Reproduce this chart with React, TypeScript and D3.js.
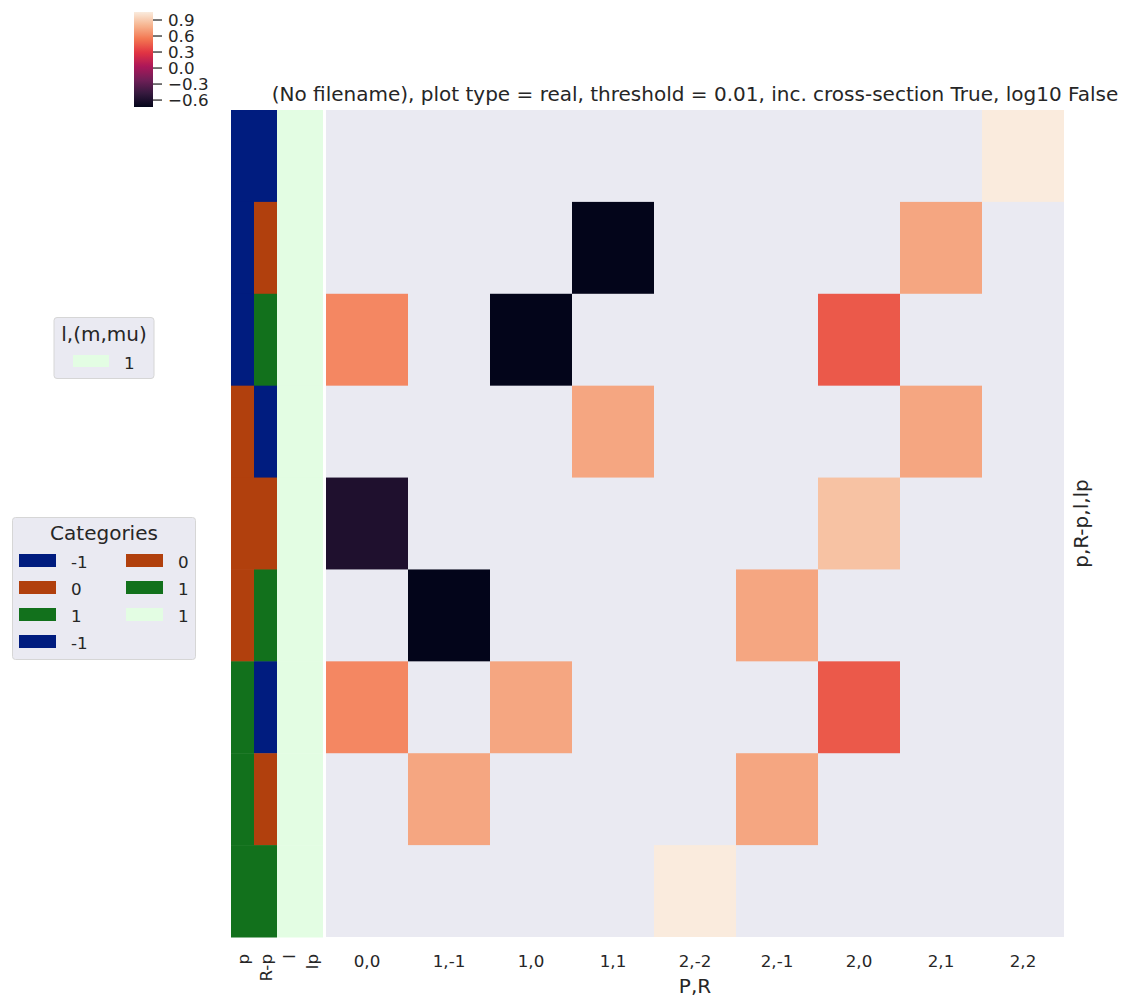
import React from 'react';
import * as d3 from 'd3';

// row index categories (p, R-p, l, lp)
const pVals = [-1, -1, -1, 0, 0, 0, 1, 1, 1];
const rpVals = [-1, 0, 1, -1, 0, 1, -1, 0, 1];
const lVals = [1, 1, 1, 1, 1, 1, 1, 1, 1];
const lpVals = [1, 1, 1, 1, 1, 1, 1, 1, 1];

// column labels (P,R)
const colLabels = ['0,0', '1,-1', '1,0', '1,1', '2,-2', '2,-1', '2,0', '2,1', '2,2'];

// heatmap values, null = below threshold
const row0 = [null, null, null, null, null, null, null, null, 1.05];
const row1 = [null, null, null, -0.73, null, null, null, 0.74, null];
const row2 = [0.61, null, -0.73, null, null, null, 0.43, null, null];
const row3 = [null, null, null, 0.74, null, null, null, 0.74, null];
const row4 = [-0.59, null, null, null, null, null, 0.86, null, null];
const row5 = [null, -0.73, null, null, null, 0.74, null, null, null];
const row6 = [0.61, null, 0.74, null, null, null, 0.43, null, null];
const row7 = [null, 0.74, null, null, null, 0.74, null, null, null];
const row8 = [null, null, null, null, 1.05, null, null, null, null];
const rows = [row0, row1, row2, row3, row4, row5, row6, row7, row8];

const cbTicks = [0.9, 0.6, 0.3, 0.0, -0.3, -0.6];

const TITLE = '(No filename), plot type = real, threshold = 0.01, inc. cross-section True, log10 False';

// seaborn "rocket" approximation
const rocketStops = ['#03051a', '#35193e', '#701f57', '#ad1759', '#e13342', '#f37651', '#f6b48f', '#faebdd'];
const rocket = d3.scaleLinear<string>()
  .domain(rocketStops.map((_, i) => i / (rocketStops.length - 1)))
  .range(rocketStops)
  .interpolate(d3.interpolateRgb);

const catColor = (v: number) => (v === -1 ? '#001c7f' : v === 0 ? '#b1400d' : '#12711c');
const lColor = '#e3fde3';
const txt = '#262626';
const font = 'DejaVu Sans, sans-serif';
const fsTick = 16.7;
const fsBig = 20;

const App = () => {
  const W = 1134, H = 1008;
  const hm = { left: 326, right: 1064, top: 110, bottom: 937 };
  const stripX = [231, 254, 277, 300];
  const stripW = 23;

  const allVals = rows.flat().filter((v) => v !== null) as number[];
  const vmin = d3.min(allVals)!;
  const vmax = d3.max(allVals)!;
  const color = (v: number) => rocket((v - vmin) / (vmax - vmin));

  const x = d3.scaleBand<number>().domain(d3.range(colLabels.length)).range([hm.left, hm.right]);
  const y = d3.scaleBand<number>().domain(d3.range(rows.length)).range([hm.top, hm.bottom]);

  const cb = { x: 134, w: 19, top: 12, bottom: 107 };
  const cbY = d3.scaleLinear().domain([vmin, vmax]).range([cb.bottom, cb.top]);
  const gradStops = d3.range(0, 1.0001, 0.02);

  const strips = [pVals, rpVals, lVals, lpVals];
  const stripColors = [catColor, catColor, () => lColor, () => lColor];
  const stripLabels = ['p', 'R-p', 'l', 'lp'];

  const catItems = [
    { c: '#001c7f', t: '-1', col: 0, row: 0 },
    { c: '#b1400d', t: '0', col: 0, row: 1 },
    { c: '#12711c', t: '1', col: 0, row: 2 },
    { c: '#001c7f', t: '-1', col: 0, row: 3 },
    { c: '#b1400d', t: '0', col: 1, row: 0 },
    { c: '#12711c', t: '1', col: 1, row: 1 },
    { c: lColor, t: '1', col: 1, row: 2 },
  ];

  return (
    <svg width={W} height={H} style={{ position: 'absolute', left: 0, top: 0, background: '#fff' }} fontFamily={font}>
      <defs>
        <linearGradient id="cbgrad" x1="0" y1="1" x2="0" y2="0">
          {gradStops.map((t) => (
            <stop key={t} offset={t} stopColor={rocket(t)} />
          ))}
        </linearGradient>
      </defs>

      {/* colorbar */}
      <rect x={cb.x} y={cb.top} width={cb.w} height={cb.bottom - cb.top} fill="url(#cbgrad)" />
      {cbTicks.map((t) => (
        <g key={t} transform={`translate(${cb.x + cb.w},${cbY(t)})`}>
          <line x1={0} x2={9} stroke={txt} strokeWidth={1.25} />
          <text x={15} dy="0.36em" fontSize={fsTick} fill={txt}>
            {d3.format('.1f')(t).replace('-', '\u2212')}
          </text>
        </g>
      ))}

      {/* title */}
      <text x={(hm.left + hm.right) / 2} y={101} textAnchor="middle" fontSize={fsBig} fill={txt}>{TITLE}</text>

      {/* heatmap background + cells */}
      <rect x={hm.left} y={hm.top} width={hm.right - hm.left} height={hm.bottom - hm.top} fill="#eaeaf2" />
      {rows.map((r, i) =>
        r.map((v, j) =>
          v === null ? null : (
            <rect key={`${i}-${j}`} x={x(j)} y={y(i)} width={x.bandwidth()} height={y.bandwidth()} fill={color(v)} />
          )
        )
      )}

      {/* row colour strips */}
      {strips.map((s, k) =>
        s.map((v, i) => (
          <rect key={`s${k}-${i}`} x={stripX[k]} y={y(i)} width={stripW} height={y.bandwidth() + 0.5} fill={stripColors[k](v)} />
        ))
      )}
      {stripLabels.map((l, k) => (
        <text key={l} transform={`translate(${stripX[k] + stripW / 2},954) rotate(-90)`} textAnchor="end" dy="0.36em" fontSize={fsTick} fill={txt}>{l}</text>
      ))}

      {/* x tick labels */}
      {colLabels.map((c, j) => (
        <text key={c} x={x(j)! + x.bandwidth() / 2} y={967} textAnchor="middle" fontSize={fsTick} fill={txt}>{c}</text>
      ))}
      <text x={(hm.left + hm.right) / 2} y={993} textAnchor="middle" fontSize={fsBig} fill={txt}>P,R</text>
      <text transform={`translate(1081,${(hm.top + hm.bottom) / 2}) rotate(-90)`} textAnchor="middle" dy="0.36em" fontSize={fsBig} fill={txt}>p,R-p,l,lp</text>

      {/* l,(m,mu) legend */}
      <g>
        <rect x={54} y={317.5} width={100} height={61} rx={3} fill="#eaeaf2" stroke="#d6d6d6" strokeWidth={1} />
        <text x={104} y={341} textAnchor="middle" fontSize={fsBig} fill={txt}>l,(m,mu)</text>
        <rect x={73} y={355} width={36} height={12} fill={lColor} />
        <text x={124} y={369} fontSize={fsTick} fill={txt}>1</text>
      </g>

      {/* Categories legend */}
      <g>
        <rect x={12.5} y={517.5} width={183} height={142} rx={3} fill="#eaeaf2" stroke="#d6d6d6" strokeWidth={1} />
        <text x={104} y={540} textAnchor="middle" fontSize={fsBig} fill={txt}>Categories</text>
        {catItems.map((it, i) => {
          const px = it.col === 0 ? 19 : 126;
          const py = 554 + it.row * 27;
          return (
            <g key={i}>
              <rect x={px} y={py} width={37} height={13} fill={it.c} />
              <text x={px + 52} y={py + 14} fontSize={fsTick} fill={txt}>{it.t}</text>
            </g>
          );
        })}
      </g>
    </svg>
  );
};

export default App;
